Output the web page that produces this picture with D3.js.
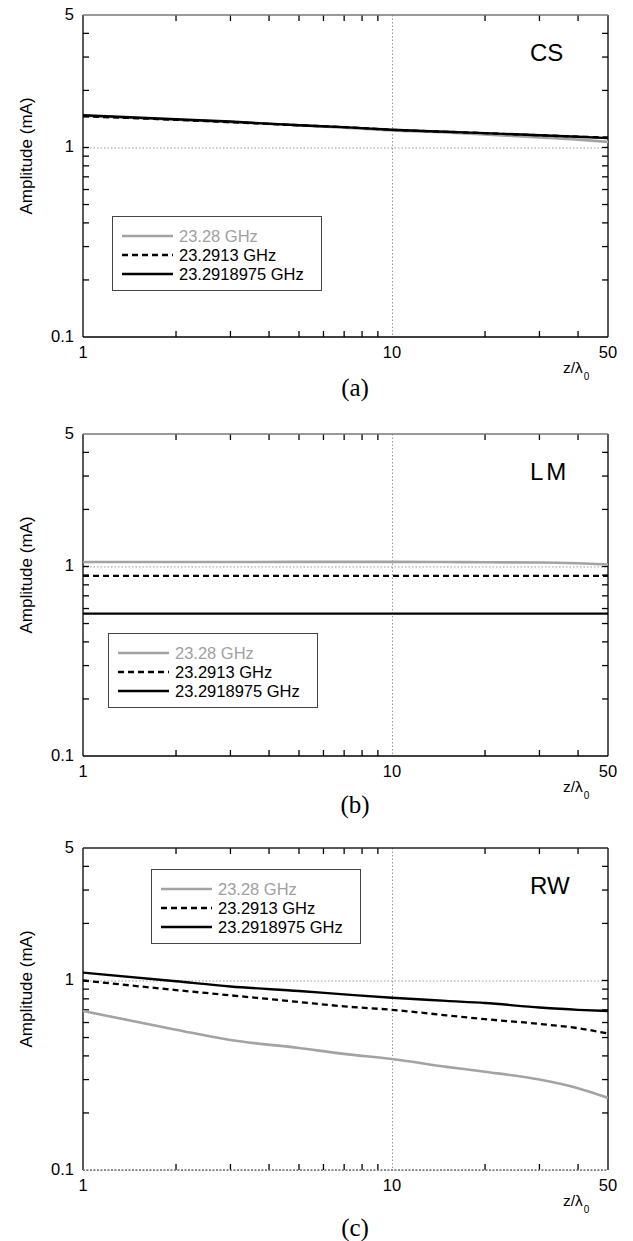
<!DOCTYPE html>
<html>
<head>
<meta charset="utf-8">
<script src="https://cdn.jsdelivr.net/npm/d3@7"></script>
<style>
  html, body { margin: 0; padding: 0; background: #fff; }
  svg { display: block; }
</style>
</head>
<body>
<script>
// ---------------- data ----------------
const zValues = [1, 2, 3, 5, 7, 10, 15, 20, 30, 40, 50];
const seriesNames = ["23.28 GHz", "23.2913 GHz", "23.2918975 GHz"];
const panelNames = ["CS", "LM", "RW"];
const captions = ["(a)", "(b)", "(c)"];

const csGray   = [1.47, 1.40, 1.36, 1.31, 1.27, 1.23, 1.20, 1.17, 1.13, 1.10, 1.07];
const csDashed = [1.46, 1.40, 1.36, 1.31, 1.28, 1.24, 1.21, 1.19, 1.16, 1.14, 1.13];
const csBlack  = [1.48, 1.41, 1.37, 1.31, 1.28, 1.24, 1.21, 1.19, 1.16, 1.14, 1.12];

const lmGray   = [1.055, 1.055, 1.056, 1.057, 1.058, 1.058, 1.055, 1.052, 1.05, 1.04, 1.025];
const lmDashed = [0.893, 0.893, 0.893, 0.893, 0.893, 0.893, 0.893, 0.893, 0.893, 0.893, 0.893];
const lmBlack  = [0.564, 0.564, 0.564, 0.564, 0.564, 0.564, 0.564, 0.564, 0.564, 0.564, 0.564];

const rwGray   = [0.69, 0.55, 0.485, 0.44, 0.41, 0.385, 0.35, 0.33, 0.30, 0.27, 0.24];
const rwDashed = [1.00, 0.89, 0.835, 0.77, 0.73, 0.70, 0.655, 0.625, 0.59, 0.56, 0.525];
const rwBlack  = [1.10, 0.99, 0.93, 0.88, 0.845, 0.81, 0.78, 0.76, 0.72, 0.70, 0.69];

const xTickValues = [2, 3, 4, 5, 6, 7, 8, 9, 20, 30, 40];
const xTickLabels = [1, 10, 50];
const yTickValues = [0.2, 0.3, 0.4, 0.5, 0.6, 0.7, 0.8, 0.9, 1, 2, 3, 4];
const yTickLabels = [0.1, 1, 5];
const xGrid = [10];
const yGridByPanel = [[1], [1], [0.1, 1]];

const panelSeries = [
  [csGray, csDashed, csBlack],
  [lmGray, lmDashed, lmBlack],
  [rwGray, rwDashed, rwBlack]
];

// ---------------- layout ----------------
const W = 633, H = 1241;
const left = 83, right = 608;
const panelTops = [15, 434, 848];
const panelH = 322;
const legendPos = [[112, 216], [108, 633], [151, 869]];
const legendW = 209, legendH = 74;
const captionY = [396, 813, 1236];
const SANS = "'Liberation Sans', Arial, Helvetica, sans-serif";
const SERIF = "'Liberation Serif', 'Times New Roman', serif";

const styles = [
  { color: "#a3a3a3", width: 2.6, dash: null, text: "#a0a0a0" },
  { color: "#000", width: 2.3, dash: "6,4", text: "#000" },
  { color: "#000", width: 2.4, dash: null, text: "#000" }
];

const svg = d3.select("body").append("svg")
  .attr("width", W).attr("height", H)
  .style("font-family", SANS);

panelTops.forEach((top, p) => {
  const bottom = top + panelH;
  const x = d3.scaleLog().domain([1, 50]).range([left, right]);
  const y = d3.scaleLog().domain([0.1, 5]).range([bottom, top]);
  const g = svg.append("g");

  const clipId = "clip" + p;
  g.append("clipPath").attr("id", clipId)
    .append("rect").attr("x", left).attr("y", top)
    .attr("width", right - left).attr("height", panelH);

  // gridlines
  g.selectAll(".xg").data(xGrid).enter().append("line")
    .attr("x1", d => x(d) + 0.5).attr("x2", d => x(d) + 0.5)
    .attr("y1", top).attr("y2", bottom)
    .attr("stroke", "#999").attr("stroke-width", 1)
    .attr("stroke-dasharray", "1.5,2");
  g.selectAll(".yg").data(yGridByPanel[p]).enter().append("line")
    .attr("x1", left).attr("x2", right)
    .attr("y1", d => y(d) + 0.5).attr("y2", d => y(d) + 0.5)
    .attr("stroke", "#999").attr("stroke-width", 1)
    .attr("stroke-dasharray", "1.5,2");

  // ticks (inside, on all four sides)
  const tickLen = 6;
  const addTick = (x1, y1, x2, y2) => g.append("line")
    .attr("x1", x1).attr("y1", y1).attr("x2", x2).attr("y2", y2)
    .style("stroke", "#000").style("stroke-width", "1.3px");
  xTickValues.forEach(d => {
    const xx = x(d);
    addTick(xx, bottom, xx, bottom - tickLen);
    addTick(xx, top, xx, top + tickLen);
  });
  yTickValues.forEach(d => {
    const yy = y(d);
    addTick(left, yy, left + tickLen, yy);
    addTick(right, yy, right - tickLen, yy);
  });

  // tick labels
  g.selectAll(".xl").data(xTickLabels).enter().append("text")
    .attr("x", d => x(d)).attr("y", bottom + 21)
    .attr("text-anchor", "middle").attr("font-size", 16.5)
    .text(d => String(d));
  g.selectAll(".yl").data(yTickLabels).enter().append("text")
    .attr("x", left - 9).attr("y", d => y(d) + 5)
    .attr("text-anchor", "end").attr("font-size", 16.5)
    .text(d => String(d));

  // frame
  const bottomIsGrid = yGridByPanel[p].includes(0.1);
  g.append("line").attr("x1", left).attr("x2", left).attr("y1", top).attr("y2", bottom)
    .attr("stroke", "#000").attr("stroke-width", 1.3);
  g.append("line").attr("x1", right).attr("x2", right).attr("y1", top).attr("y2", bottom)
    .attr("stroke", "#000").attr("stroke-width", 1.3);
  g.append("line").attr("x1", left).attr("x2", right).attr("y1", top).attr("y2", top)
    .attr("stroke", p === 2 ? "#222" : "#777").attr("stroke-width", 1.6);
  g.append("line").attr("x1", left).attr("x2", right).attr("y1", bottom).attr("y2", bottom)
    .attr("stroke", bottomIsGrid ? "#777" : "#000").attr("stroke-width", 1.3)
    .attr("stroke-dasharray", bottomIsGrid ? "2,1.5" : null);

  // series lines
  const line = d3.line().x((d, i) => x(zValues[i])).y(d => y(d)).curve(d3.curveMonotoneX);
  panelSeries[p].forEach((vals, s) => {
    const st = styles[s];
    g.append("path").datum(vals)
      .attr("clip-path", `url(#${clipId})`)
      .attr("d", line)
      .attr("fill", "none")
      .attr("stroke", st.color)
      .attr("stroke-width", st.width)
      .attr("stroke-dasharray", st.dash);
  });

  // panel name
  g.append("text").attr("x", 530).attr("y", top + 46)
    .attr("font-size", 24)
    .attr("letter-spacing", p === 1 ? 3 : 0)
    .text(panelNames[p]);

  // legend
  const [lx, ly] = legendPos[p];
  const lg = g.append("g").attr("transform", `translate(${lx},${ly})`);
  lg.append("rect").attr("x", 0.5).attr("y", 0.5).attr("width", legendW).attr("height", legendH)
    .attr("fill", "#fff").attr("stroke", "#444").attr("stroke-width", 1);
  seriesNames.forEach((name, s) => {
    const st = styles[s];
    const yy = 20 + s * 19;
    lg.append("line").attr("x1", 10).attr("x2", 61).attr("y1", yy).attr("y2", yy)
      .attr("stroke", st.color).attr("stroke-width", st.width)
      .attr("stroke-dasharray", st.dash);
    lg.append("text").attr("x", 67).attr("y", yy + 6)
      .attr("font-size", 16.5).attr("fill", st.text).text(name);
  });

  // y-axis title
  g.append("text")
    .attr("transform", `translate(32,${(top + bottom) / 2 - 20}) rotate(-90)`)
    .attr("text-anchor", "middle").attr("font-size", 17)
    .text("Amplitude (mA)");

  // x-axis title z/λ0
  const xt = g.append("text").attr("x", 563).attr("y", bottom + 36)
    .attr("font-size", 15.5);
  xt.append("tspan").text("z/λ");
  xt.append("tspan").attr("dy", 7).attr("dx", 1).attr("font-size", 10).text("0");

  // caption
  g.append("text").attr("x", 355).attr("y", captionY[p])
    .attr("text-anchor", "middle")
    .style("font-family", SERIF)
    .attr("font-size", 25)
    .text(captions[p]);
});
</script>
</body>
</html>
